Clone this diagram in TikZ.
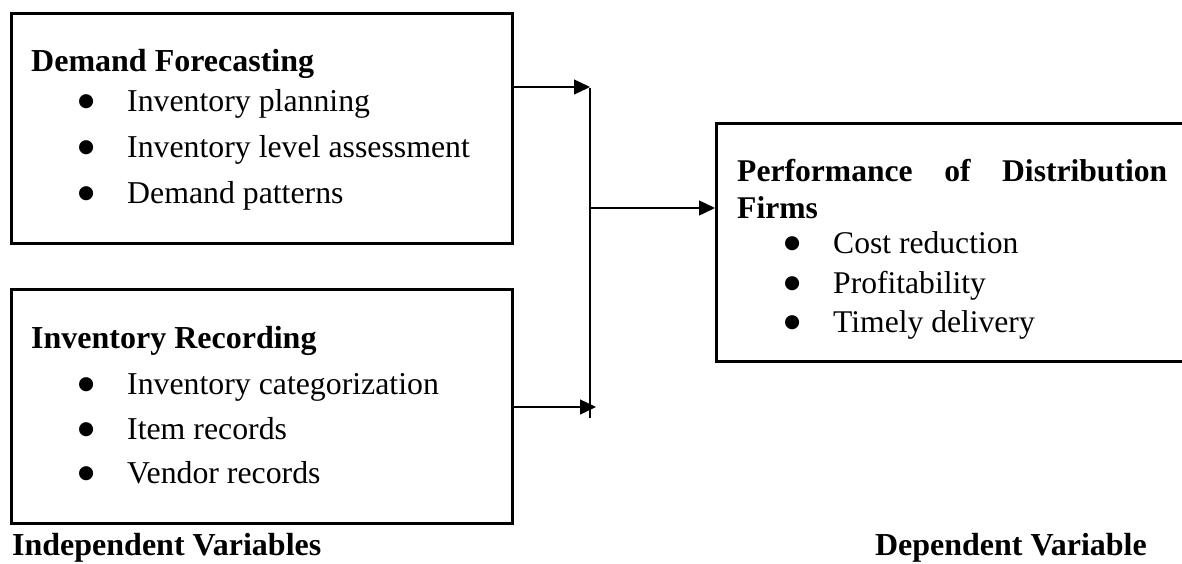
\documentclass[tikz,border=0pt]{standalone}
\usepackage{fontspec}
\setmainfont{Liberation Serif}
\newfontfamily\markfont{DejaVu Sans}
\usetikzlibrary{arrows.meta}
% list marker: a round bullet centred in a 20pt slot, then the gap to the text
\newcommand{\itemmark}[1]{\makebox[20pt]{\raisebox{4.5pt}{\markfont\fontsize{18.5}{18.5}\selectfont ●}}\hspace{#1}}
\begin{document}
\begin{tikzpicture}[x=1pt,y=-1pt,
  box/.style={draw,line width=2.5pt,inner sep=0pt,anchor=north west},
  conn/.style={line width=1.3pt},
  tip/.style={-{Triangle[length=16pt,width=15pt]}},
  head/.style={anchor=base west,inner sep=0pt,font=\fontsize{32}{38}\selectfont\bfseries},
  item/.style={anchor=base west,inner sep=0pt,font=\fontsize{31.8}{38}\selectfont},
  rhead/.style={anchor=base west,inner sep=0pt,font=\fontsize{31.6}{38}\selectfont\bfseries},
  ritem/.style={anchor=base west,inner sep=0pt,font=\fontsize{31.6}{38}\selectfont}]
\useasboundingbox (0,0) rectangle (1182,563);

% boxes
\node[box,minimum width=501pt,minimum height=230pt] (fc) at (10,12) {};
\node[box,minimum width=501pt,minimum height=234pt] (ir) at (10,288) {};
\node[box,minimum width=474pt,minimum height=238pt] (perf) at (715,122) {};

% Demand Forecasting
\node[head] (fch) at (31,71) {Demand Forecasting};
\node[item] (fc1) at (76,111) {\itemmark{31pt}Inventory planning};
\node[item] (fc2) at (76,157) {\itemmark{31pt}Inventory level assessment};
\node[item] (fc3) at (76,203) {\itemmark{31pt}Demand patterns};

% Inventory Recording
\node[head] (irh) at (31,348) {Inventory Recording};
\node[item] (ir1) at (76,394) {\itemmark{31pt}Inventory categorization};
\node[item] (ir2) at (76,439) {\itemmark{31pt}Item records};
\node[item] (ir3) at (76,483) {\itemmark{31pt}Vendor records};

% Performance of Distribution Firms
\node[rhead] (pfh1) at (737,181) {\makebox[430pt][s]{Performance\hfill of\hfill Distribution}};
\node[rhead] (pfh2) at (737,218) {Firms};
\node[ritem] (pf1) at (782,253) {\itemmark{31pt}Cost reduction};
\node[ritem] (pf2) at (782,293) {\itemmark{31pt}Profitability};
\node[ritem] (pf3) at (782,332) {\itemmark{31pt}Timely delivery};

% captions
\node[head,anchor=base west] (iv) at (12,555) {Independent Variables};
\node[head,anchor=base east] (dv) at (1147,555) {Dependent Variable};

% connectors
\coordinate (jt) at (590,87);
\coordinate (jb) at (590,418);
\coordinate (jm) at (590,208);
\coordinate (bt) at (596,407);
\draw[conn] (590,88) -- (jb);
\draw[conn,tip] (fc.east |- jt) -- (jt);
\draw[conn,tip] (ir.east |- bt) -- (bt);
\draw[conn,tip] (jm) -- (perf.west |- jm);
\end{tikzpicture}
\end{document}
